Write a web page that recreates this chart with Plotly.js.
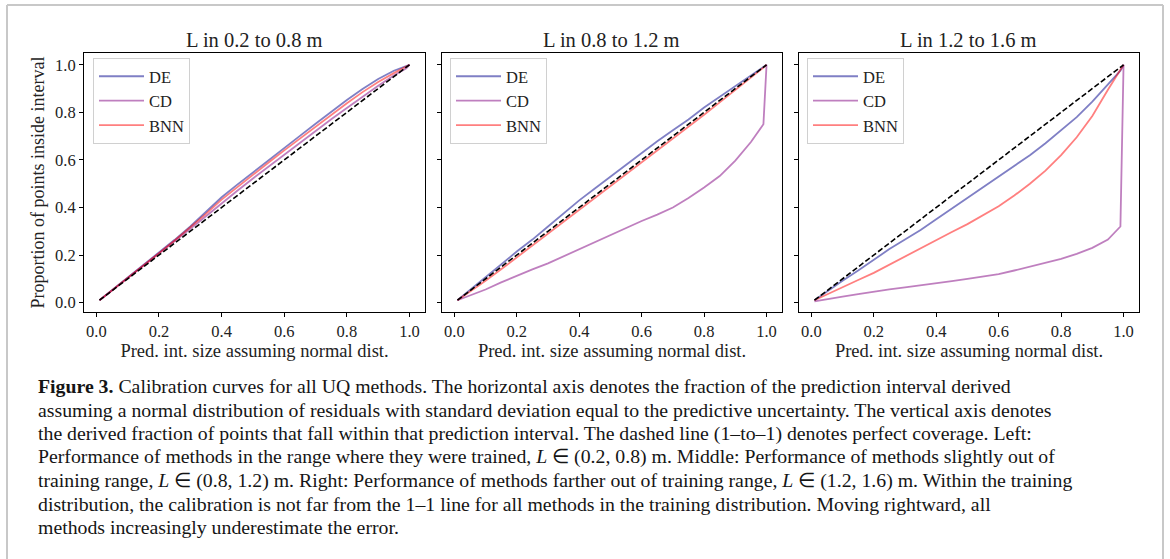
<!DOCTYPE html>
<html>
<head>
<meta charset="utf-8">
<script src="https://cdn.plot.ly/plotly-3.0.1.min.js"></script>
<style>html,body{margin:0;padding:0;background:#fff;}#chart{width:1170px;height:559px;}</style>
</head>
<body>
<div id="chart"></div>
<script>
// ---- data ----
const X = [0.01, 0.05, 0.10, 0.15, 0.20, 0.25, 0.30, 0.35, 0.40, 0.45, 0.50, 0.55, 0.60, 0.65, 0.70, 0.75, 0.80, 0.85, 0.90, 0.95, 0.98, 0.99, 1.00];
const diagX = [0.01, 1.0];
const diagY = [0.01, 1.0];

// Panel 1: L in 0.2 to 0.8 m
const de1  = [0.01, 0.052, 0.105, 0.158, 0.211, 0.264, 0.320, 0.380, 0.443, 0.496, 0.548, 0.599, 0.650, 0.701, 0.752, 0.802, 0.852, 0.898, 0.940, 0.975, 0.990, 0.995, 1.0];
const cd1  = [0.01, 0.051, 0.102, 0.153, 0.205, 0.257, 0.310, 0.363, 0.418, 0.470, 0.522, 0.572, 0.622, 0.672, 0.722, 0.771, 0.818, 0.865, 0.912, 0.955, 0.975, 0.985, 1.0];
const bnn1 = [0.01, 0.051, 0.104, 0.156, 0.208, 0.261, 0.315, 0.373, 0.433, 0.486, 0.538, 0.589, 0.640, 0.690, 0.740, 0.789, 0.838, 0.885, 0.928, 0.965, 0.985, 0.992, 1.0];

// Panel 2: L in 0.8 to 1.2 m
const de2  = [0.01, 0.052, 0.105, 0.160, 0.215, 0.265, 0.320, 0.375, 0.430, 0.480, 0.530, 0.578, 0.628, 0.678, 0.725, 0.770, 0.820, 0.865, 0.910, 0.955, 0.982, 0.990, 1.0];
const cd2  = [0.01, 0.030, 0.055, 0.085, 0.113, 0.140, 0.165, 0.195, 0.223, 0.255, 0.285, 0.313, 0.343, 0.370, 0.400, 0.440, 0.484, 0.532, 0.597, 0.675, 0.735, 0.750, 1.0];
const bnn2 = [0.01, 0.045, 0.092, 0.140, 0.190, 0.240, 0.290, 0.338, 0.387, 0.437, 0.487, 0.537, 0.587, 0.637, 0.690, 0.740, 0.790, 0.842, 0.893, 0.945, 0.978, 0.988, 1.0];

// Panel 3: L in 1.2 to 1.6 m
const de3  = [0.01, 0.048, 0.092, 0.135, 0.180, 0.225, 0.265, 0.305, 0.350, 0.395, 0.440, 0.485, 0.530, 0.575, 0.620, 0.670, 0.725, 0.780, 0.845, 0.915, 0.960, 0.975, 1.0];
const cd3  = [0.005, 0.015, 0.025, 0.036, 0.047, 0.056, 0.064, 0.072, 0.080, 0.090, 0.100, 0.110, 0.120, 0.135, 0.151, 0.165, 0.184, 0.205, 0.230, 0.265, 0.305, 0.320, 1.0];
const bnn3 = [0.01, 0.035, 0.065, 0.095, 0.125, 0.160, 0.195, 0.230, 0.265, 0.297, 0.330, 0.368, 0.405, 0.450, 0.500, 0.555, 0.620, 0.695, 0.785, 0.895, 0.955, 0.975, 1.0];

const methods = ['DE', 'CD', 'BNN'];
const panelTitles = ['L in 0.2 to 0.8 m', 'L in 0.8 to 1.2 m', 'L in 1.2 to 1.6 m'];
const panelData = [[de1, cd1, bnn1], [de2, cd2, bnn2], [de3, cd3, bnn3]];
const tickVals = [0.0, 0.2, 0.4, 0.6, 0.8, 1.0];
const tickText = ['0.0', '0.2', '0.4', '0.6', '0.8', '1.0'];
const xTitle = 'Pred. int. size assuming normal dist.';
const yTitle = 'Proportion of points inside interval';
const captionLines = [
  '<b>Figure 3.</b> Calibration curves for all UQ methods. The horizontal axis denotes the fraction of the prediction interval derived',
  'assuming a normal distribution of residuals with standard deviation equal to the predictive uncertainty. The vertical axis denotes',
  'the derived fraction of points that fall within that prediction interval. The dashed line (1–to–1) denotes perfect coverage. Left:',
  'Performance of methods in the range where they were trained, <i>L</i> ∈ (0.2, 0.8) m. Middle: Performance of methods slightly out of',
  'training range, <i>L</i> ∈ (0.8, 1.2) m. Right: Performance of methods farther out of training range, <i>L</i> ∈ (1.2, 1.6) m. Within the training',
  'distribution, the calibration is not far from the 1–1 line for all methods in the training distribution. Moving rightward, all',
  'methods increasingly underestimate the error.'
];

// ---- styling ----
const W = 1170, H = 559;
const colors = ['rgba(0,0,139,0.5)', 'rgba(128,0,128,0.5)', 'rgba(255,0,0,0.5)'];
const serif = 'Liberation Serif, Times New Roman, serif';
const textColor = '#222222';
const xDomains = [[84 / W, 425 / W], [442 / W, 782 / W], [799 / W, 1139 / W]];
const yDomain = [1 - 312 / H, 1 - 53 / H];
const legendLeft = [93, 450, 807];
const rng = [-0.0395, 1.0495];

const traces = [];
const layout = {
  width: W, height: H,
  margin: {l: 0, r: 0, t: 0, b: 0},
  paper_bgcolor: '#ffffff', plot_bgcolor: '#ffffff',
  font: {family: serif, color: textColor, size: 16},
  annotations: [], shapes: []
};

for (let p = 0; p < 3; p++) {
  const sfx = p === 0 ? '' : String(p + 1);
  const legName = 'legend' + sfx;
  for (let m = 0; m < 3; m++) {
    traces.push({
      type: 'scatter', mode: 'lines', x: X, y: panelData[p][m], name: methods[m],
      xaxis: 'x' + sfx, yaxis: 'y' + sfx, legend: legName,
      line: {color: colors[m], width: 1.8}, hoverinfo: 'skip'
    });
  }
  traces.push({
    type: 'scatter', mode: 'lines', x: diagX, y: diagY, showlegend: false,
    xaxis: 'x' + sfx, yaxis: 'y' + sfx,
    line: {color: '#000000', width: 1.6, dash: '5.5px,2.5px'}, hoverinfo: 'skip'
  });
  const common = {
    range: rng, showgrid: false, zeroline: false, showline: true, mirror: true,
    linecolor: '#000000', linewidth: 1, ticks: 'outside', ticklen: 4, tickwidth: 1, tickcolor: '#000000',
    tickvals: tickVals, ticktext: tickText, tickfont: {family: serif, size: 16.5, color: textColor}
  };
  layout['xaxis' + sfx] = Object.assign({}, common, {
    domain: xDomains[p], anchor: 'y' + sfx,
    title: {text: xTitle, font: {family: serif, size: 18.5, color: textColor}, standoff: 1}
  });
  layout['yaxis' + sfx] = Object.assign({}, common, {
    domain: yDomain, anchor: 'x' + sfx, showticklabels: p === 0,
    title: p === 0 ? {text: yTitle, font: {family: serif, size: 18, color: textColor}, standoff: 5} : {text: ''}
  });
  layout[legName] = {
    x: legendLeft[p] / W, y: 1 - 58 / H, xanchor: 'left', yanchor: 'top',
    bgcolor: 'rgba(255,255,255,0.8)', bordercolor: '#d0d0d0', borderwidth: 1,
    font: {family: serif, size: 16.5, color: textColor}, itemwidth: 45
  };
  layout.annotations.push({
    text: panelTitles[p], xref: 'paper', yref: 'paper',
    x: (xDomains[p][0] + xDomains[p][1]) / 2, y: 1 - 40 / H, xanchor: 'center', yanchor: 'middle',
    showarrow: false, font: {family: serif, size: 20.5, color: textColor}
  });
}

for (let i = 0; i < captionLines.length; i++) {
  layout.annotations.push({
    text: captionLines[i], xref: 'paper', yref: 'paper', x: 36 / W, y: 1 - (386 + 23.5 * i) / H,
    xanchor: 'left', yanchor: 'middle', align: 'left', showarrow: false,
    font: {family: serif, size: 19.8, color: '#151515'}
  });
}

// figure frame (light gray)
const frameColor = '#c8c8c8';
layout.shapes.push(
  {type: 'line', xref: 'paper', yref: 'paper', x0: 7 / W, x1: 7 / W, y0: 0, y1: 1 - 5 / H, line: {color: frameColor, width: 2}},
  {type: 'line', xref: 'paper', yref: 'paper', x0: 7 / W, x1: 1163 / W, y0: 1 - 5 / H, y1: 1 - 5 / H, line: {color: frameColor, width: 2}},
  {type: 'line', xref: 'paper', yref: 'paper', x0: 1163 / W, x1: 1163 / W, y0: 0, y1: 1 - 5 / H, line: {color: frameColor, width: 2}}
);

Plotly.newPlot('chart', traces, layout, {staticPlot: true, displayModeBar: false});
</script>
</body>
</html>
